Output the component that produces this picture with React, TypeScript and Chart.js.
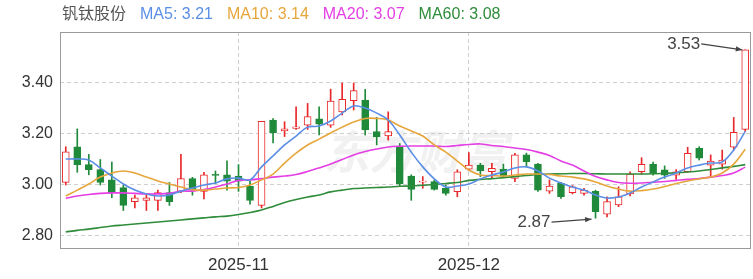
import React, { useEffect, useRef } from "react";
import { Chart, registerables } from "chart.js";

Chart.register(...registerables);

const stockName = "钒钛股份";

const dates = [
  "2025-10-13", "2025-10-14", "2025-10-15", "2025-10-16", "2025-10-17",
  "2025-10-20", "2025-10-21", "2025-10-22", "2025-10-23", "2025-10-24",
  "2025-10-27", "2025-10-28", "2025-10-29", "2025-10-30", "2025-10-31",
  "2025-11-03", "2025-11-04", "2025-11-05", "2025-11-06", "2025-11-07",
  "2025-11-10", "2025-11-11", "2025-11-12", "2025-11-13", "2025-11-14",
  "2025-11-17", "2025-11-18", "2025-11-19", "2025-11-20", "2025-11-21",
  "2025-11-24", "2025-11-25", "2025-11-26", "2025-11-27", "2025-11-28",
  "2025-12-01", "2025-12-02", "2025-12-03", "2025-12-04", "2025-12-05",
  "2025-12-08", "2025-12-09", "2025-12-10", "2025-12-11", "2025-12-12",
  "2025-12-15", "2025-12-16", "2025-12-17", "2025-12-18", "2025-12-19",
  "2025-12-22", "2025-12-23", "2025-12-24", "2025-12-25", "2025-12-26",
  "2025-12-29", "2025-12-30", "2025-12-31", "2026-01-05", "2026-01-06",
];

const opens = [
  3.01, 3.15, 3.08, 3.06, 3.02, 2.99, 2.935, 2.94, 2.94, 2.97,
  2.975, 3.025, 2.975, 3.042, 3.04, 3.035, 2.995, 2.92, 3.255, 3.212,
  3.222, 3.235, 3.259, 3.235, 3.287, 3.331, 3.333, 3.209, 3.192, 3.153,
  3.035, 3.011, 3.013, 2.987, 2.974, 3.062, 3.078, 3.052, 3.062, 3.026,
  3.118, 3.082, 2.976, 3.007, 2.97, 2.967, 2.975, 2.886, 2.922, 2.965,
  3.052, 3.081, 3.059, 3.039, 3.052, 3.144, 3.078, 3.082, 3.148, 3.218,
];
const highs = [
  3.15, 3.22, 3.12, 3.10, 3.09, 3.00, 2.96, 2.96, 2.98, 3.01,
  3.12, 3.03, 3.05, 3.055, 3.095, 3.08, 3.015, 3.25, 3.26, 3.248,
  3.307, 3.32, 3.307, 3.376, 3.40, 3.40, 3.375, 3.265, 3.287, 3.163,
  3.04, 3.033, 3.02, 3.0, 3.06, 3.127, 3.085, 3.085, 3.082, 3.124,
  3.125, 3.085, 3.02, 3.01, 2.998, 2.987, 2.98, 2.954, 2.993, 3.052,
  3.107, 3.09, 3.075, 3.06, 3.148, 3.15, 3.118, 3.137, 3.265, 3.53,
];
const lows = [
  3.00, 3.05, 3.04, 3.00, 2.95, 2.90, 2.91, 2.90, 2.90, 2.92,
  2.97, 2.96, 2.945, 3.005, 2.98, 2.975, 2.925, 2.91, 3.165, 3.19,
  3.218, 3.218, 3.196, 3.226, 3.275, 3.294, 3.196, 3.157, 3.176, 2.996,
  2.94, 2.987, 2.98, 2.96, 2.954, 3.056, 3.033, 3.026, 3.033, 3.013,
  3.072, 2.975, 2.967, 2.947, 2.965, 2.96, 2.87, 2.875, 2.915, 2.957,
  3.043, 3.039, 3.026, 3.022, 3.05, 3.098, 3.033, 3.062, 3.137, 3.21,
];
const closes = [
  3.13, 3.08, 3.06, 3.01, 2.97, 2.92, 2.95, 2.95, 2.97, 2.935,
  3.025, 2.98, 3.04, 3.038, 3.015, 3.015, 2.94, 3.25, 3.205, 3.22,
  3.228, 3.268, 3.239, 3.329, 3.336, 3.37, 3.216, 3.189, 3.209, 3.004,
  2.983, 3.015, 2.983, 2.967, 3.052, 3.078, 3.056, 3.065, 3.035, 3.118,
  3.091, 2.98, 2.996, 2.954, 2.993, 2.98, 2.895, 2.935, 2.954, 3.043,
  3.081, 3.046, 3.039, 3.052, 3.124, 3.105, 3.094, 3.098, 3.207, 3.53,
];

const ma5 = [
  3.102, 3.102, 3.098, 3.067, 3.035, 3.004, 2.98, 2.965, 2.957, 2.961,
  2.976, 2.988, 3.0, 3.008, 3.024, 3.027, 3.02, 3.071, 3.114, 3.157,
  3.192, 3.227, 3.231, 3.251, 3.282, 3.31, 3.302, 3.282, 3.255, 3.196,
  3.129, 3.071, 3.024, 2.992, 2.996, 3.004, 3.024, 3.039, 3.051, 3.067,
  3.071, 3.055, 3.027, 3.008, 2.992, 2.98, 2.961, 2.949, 2.953, 2.969,
  2.992, 3.012, 3.031, 3.047, 3.067, 3.078, 3.086, 3.09, 3.137, 3.21,
];
const ma10 = [
  2.957, 2.98, 3.004, 3.031, 3.047, 3.055, 3.047, 3.031, 3.016, 3.004,
  2.992, 2.982, 2.98, 2.984, 2.988, 2.99, 3.0, 3.02, 3.043, 3.086,
  3.125, 3.157, 3.18, 3.204, 3.227, 3.247, 3.261, 3.261, 3.255, 3.231,
  3.212, 3.192, 3.157, 3.129, 3.094, 3.059, 3.039, 3.037, 3.035, 3.039,
  3.043, 3.043, 3.041, 3.035, 3.031, 3.024, 3.012, 2.996, 2.984, 2.976,
  2.978, 2.984, 2.994, 3.006, 3.016, 3.024, 3.031, 3.047, 3.082, 3.14,
];
const ma20 = [
  2.948, 2.957, 2.963, 2.967, 2.969, 2.969, 2.967, 2.965, 2.965, 2.967,
  2.976, 2.976, 2.982, 2.992, 3.004, 3.018, 3.02, 3.025, 3.031, 3.035,
  3.041, 3.053, 3.067, 3.082, 3.1, 3.118, 3.131, 3.141, 3.149, 3.152,
  3.153, 3.153, 3.153, 3.151, 3.155, 3.159, 3.161, 3.155, 3.151, 3.145,
  3.139, 3.129, 3.116, 3.094, 3.078, 3.055, 3.033, 3.02, 3.01, 3.007,
  3.008, 3.011, 3.014, 3.018, 3.022, 3.025, 3.031, 3.037, 3.047, 3.07,
];
const ma60 = [
  2.816, 2.822, 2.827, 2.833, 2.839, 2.843, 2.847, 2.851, 2.855, 2.859,
  2.863, 2.867, 2.871, 2.875, 2.878, 2.884, 2.892, 2.902, 2.916, 2.931,
  2.943, 2.953, 2.961, 2.973, 2.98, 2.986, 2.988, 2.99, 2.992, 2.995,
  2.996, 2.999, 3.002, 3.006, 3.01, 3.018, 3.022, 3.025, 3.029, 3.033,
  3.037, 3.041, 3.043, 3.044, 3.045, 3.045, 3.044, 3.043, 3.043, 3.043,
  3.043, 3.044, 3.046, 3.048, 3.051, 3.055, 3.061, 3.067, 3.073, 3.08,
];

const maNames = ["MA5", "MA10", "MA20", "MA60"];
const maLast = ["3.21", "3.14", "3.07", "3.08"];
const maColors = ["#5b8ee6", "#e6a63c", "#e43ee4", "#2f8c3a"];

const yTicks = [2.8, 3.0, 3.2, 3.4];
const yMin = 2.749;
const yMax = 3.6;
const monthLabels = ["2025-11", "2025-12"];

const UP = "#e8282a";
const DOWN = "#1f8a3a";
const FONT = "'Liberation Sans', Arial, 'Noto Sans CJK SC', sans-serif";

function monthTickLabel(i: number): string {
  if (i <= 0) return "";
  const ym = dates[i].slice(0, 7);
  if (dates[i - 1].slice(0, 7) !== ym && monthLabels.includes(ym)) return ym;
  return "";
}

const framePlugin = {
  id: "frame",
  beforeDatasetsDraw(chart: any) {
    const { ctx, chartArea } = chart;
    ctx.save();
    ctx.font = `italic bold 46px 'Noto Sans CJK SC', sans-serif`;
    ctx.fillStyle = "rgba(190,190,190,0.22)";
    ctx.textAlign = "center";
    ctx.textBaseline = "middle";
    ctx.fillText("东方财富", (chartArea.left + chartArea.right) / 2 + 10, 152);
    ctx.restore();
  },
  afterDraw(chart: any) {
    const { ctx, chartArea } = chart;
    ctx.save();
    ctx.strokeStyle = "#9a9a9a";
    ctx.lineWidth = 1;
    ctx.strokeRect(
      Math.round(chartArea.left) + 0.5,
      Math.round(chartArea.top) + 0.5,
      Math.round(chartArea.right - chartArea.left) - 1,
      Math.round(chartArea.bottom - chartArea.top) - 1
    );
    ctx.restore();
  },
};

function drawArrow(ctx: any, x1: number, y1: number, x2: number, y2: number) {
  ctx.beginPath();
  ctx.moveTo(x1, y1);
  ctx.lineTo(x2, y2);
  ctx.stroke();
  const a = Math.atan2(y2 - y1, x2 - x1);
  const len = 7;
  ctx.beginPath();
  ctx.moveTo(x2, y2);
  ctx.lineTo(x2 - len * Math.cos(a - 0.4), y2 - len * Math.sin(a - 0.4));
  ctx.lineTo(x2 - len * Math.cos(a + 0.4), y2 - len * Math.sin(a + 0.4));
  ctx.closePath();
  ctx.fill();
}

const extremePlugin = {
  id: "extremes",
  afterDatasetsDraw(chart: any) {
    const { ctx } = chart;
    const xs = chart.scales.x;
    const ys = chart.scales.y;
    let hi = 0;
    let lo = 0;
    for (let i = 0; i < highs.length; i++) {
      if (highs[i] > highs[hi]) hi = i;
      if (lows[i] < lows[lo]) lo = i;
    }
    ctx.save();
    ctx.fillStyle = "#444";
    ctx.strokeStyle = "#444";
    ctx.lineWidth = 1.2;
    ctx.font = `17px ${FONT}`;
    ctx.textAlign = "right";
    ctx.textBaseline = "middle";
    const hx = xs.getPixelForValue(hi);
    const hy = ys.getPixelForValue(highs[hi]);
    ctx.fillText(highs[hi].toFixed(2), hx - 45, hy - 6);
    drawArrow(ctx, hx - 44, hy - 6, hx - 3, hy);
    const lx = xs.getPixelForValue(lo);
    const ly = ys.getPixelForValue(lows[lo]);
    ctx.fillText(lows[lo].toFixed(2), lx - 45, ly + 4);
    drawArrow(ctx, lx - 44, ly + 4, lx - 4, ly + 1);
    ctx.restore();
  },
};

export default function App() {
  const ref = useRef<HTMLCanvasElement | null>(null);

  useEffect(() => {
    if (!ref.current) return;
    const isUp = (i: number) => closes[i] >= opens[i];
    const maSets = [ma5, ma10, ma20, ma60].map((d, k) => ({
      type: "line" as const,
      label: maNames[k],
      data: d,
      borderColor: maColors[k],
      borderWidth: 1.6,
      pointRadius: 0,
      tension: 0.35,
      fill: false,
      order: 0,
    }));
    const chart = new Chart(ref.current, {
      type: "bar",
      data: {
        labels: dates,
        datasets: [
          {
            type: "bar",
            label: "wick",
            data: lows.map((l, i) => [l, highs[i]]),
            backgroundColor: (c: any) => (isUp(c.dataIndex) ? UP : DOWN),
            barThickness: 1,
            grouped: false,
            order: 3,
          } as any,
          {
            type: "bar",
            label: "body",
            data: opens.map((o, i) => [o, closes[i]]),
            backgroundColor: (c: any) => (isUp(c.dataIndex) ? "#ffffff" : DOWN),
            borderColor: (c: any) => (isUp(c.dataIndex) ? UP : DOWN),
            borderWidth: 1,
            borderSkipped: false,
            barThickness: 7,
            grouped: false,
            order: 2,
          } as any,
          ...maSets,
        ],
      },
      options: {
        responsive: false,
        animation: false,
        devicePixelRatio: 1,
        layout: { padding: { left: 0, right: 2, top: 32, bottom: 0 } },
        plugins: {
          legend: { display: false },
          tooltip: { enabled: false },
          title: { display: false },
        },
        scales: {
          x: {
            type: "category",
            offset: true,
            afterFit: (s: any) => {
              s.height = 30;
            },
            grid: {
              offset: false,
              drawTicks: false,
              color: (c: any) => (monthTickLabel(c.index) ? "#cfcfcf" : "rgba(0,0,0,0)"),
              lineWidth: 1,
            },
            border: { display: false, dash: [4, 3] },
            ticks: {
              autoSkip: false,
              maxRotation: 0,
              padding: 6,
              color: "#333",
              font: { size: 17, family: FONT },
              callback: (_v: any, i: number) => monthTickLabel(i),
            },
          },
          y: {
            min: yMin,
            max: yMax,
            afterFit: (s: any) => {
              s.width = 60;
            },
            afterBuildTicks: (s: any) => {
              s.ticks = yTicks.map((v) => ({ value: v }));
            },
            grid: { drawTicks: false, color: "#cfcfcf", lineWidth: 1 },
            border: { display: false, dash: [4, 3] },
            ticks: {
              padding: 7,
              color: "#333",
              font: { size: 16, family: FONT },
              callback: (v: any) => Number(v).toFixed(2),
            },
          },
        },
      },
      plugins: [framePlugin, extremePlugin],
    } as any);
    return () => chart.destroy();
  }, []);

  return (
    <div style={{ position: "absolute", left: 0, top: 0, width: 753, height: 279, background: "#fff" }}>
      <canvas ref={ref} width={753} height={279} style={{ display: "block" }} />
      <div
        style={{
          position: "absolute",
          left: 62,
          top: 4,
          display: "flex",
          gap: 14,
          fontFamily: FONT,
          fontSize: 16,
          lineHeight: "20px",
          whiteSpace: "nowrap",
        }}
      >
        <span style={{ color: "#555" }}>{stockName}</span>
        {maNames.map((n, k) => (
          <span key={n} style={{ color: maColors[k] }}>
            {n}: {maLast[k]}
          </span>
        ))}
      </div>
    </div>
  );
}
